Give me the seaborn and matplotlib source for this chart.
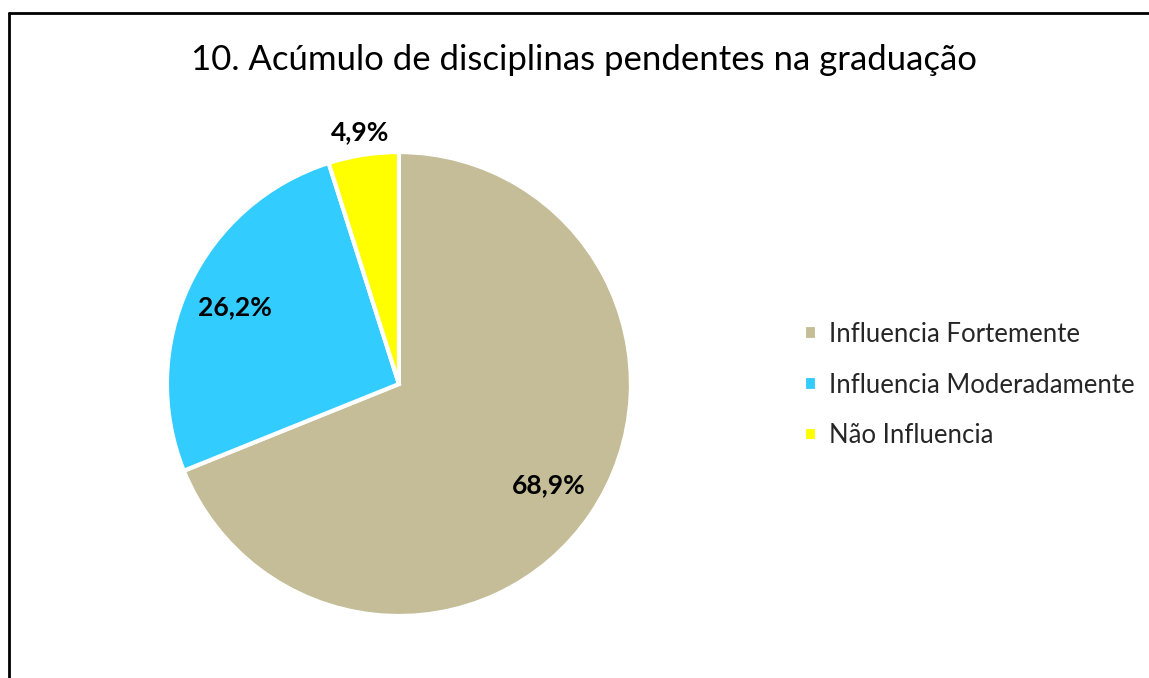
import numpy as np
import matplotlib
matplotlib.use("Agg")
import matplotlib.pyplot as plt
import seaborn as sns
from matplotlib.lines import Line2D

# ------------- Data -------------
categories = ["Influencia Fortemente", "Influencia Moderadamente", "Não Influencia"]
values = [68.9, 26.2, 4.9]
colors = ["#C4BD97", "#33CCFF", "#FFFF00"]
title = "10. Acúmulo de disciplinas pendentes na graduação"

sns.set_theme(style="white")
plt.rcParams['font.family'] = ['Lato', 'DejaVu Sans']

fig = plt.figure(figsize=(11.49, 6.78), dpi=100)

# pie axes: center ~ (399, 384), radius ~ 232 px
ax = fig.add_axes([0.1453, 0.0914, 0.4038, 0.6844])
wedges, _ = ax.pie(values, colors=colors, startangle=90, counterclock=False,
                   radius=1, wedgeprops=dict(edgecolor="white", linewidth=3))
ax.set_xlim(-1, 1)
ax.set_ylim(-1, 1)
ax.set_aspect("equal")
ax.axis("off")

# percentage labels, small slice label goes outside
for w, v in zip(wedges, values):
    ang = np.deg2rad((w.theta1 + w.theta2) / 2)
    d = 1.1 if v < 10 else 0.78
    ax.text(d * np.cos(ang), d * np.sin(ang), f"{v:.1f}%".replace(".", ","),
            ha="center", va="center", fontsize=19, fontweight="bold", color="black")

fig.text(0.508, 0.912, title, ha="center", va="center", fontsize=25, color="black")

leg = fig.legend(wedges, categories, loc="center left", bbox_to_anchor=(0.68, 0.432),
                 frameon=False, fontsize=18.5, handlelength=0.5, handleheight=0.5,
                 handletextpad=0.45, labelspacing=1.0)

# chart frame (left and top edges visible)
fig.add_artist(Line2D([9 / 1149, 9 / 1149], [0, 1 - 13 / 678], color="black", lw=2))
fig.add_artist(Line2D([9 / 1149, 1], [1 - 13 / 678, 1 - 13 / 678], color="black", lw=2))

fig.savefig("out.png", dpi=100, facecolor="white")
